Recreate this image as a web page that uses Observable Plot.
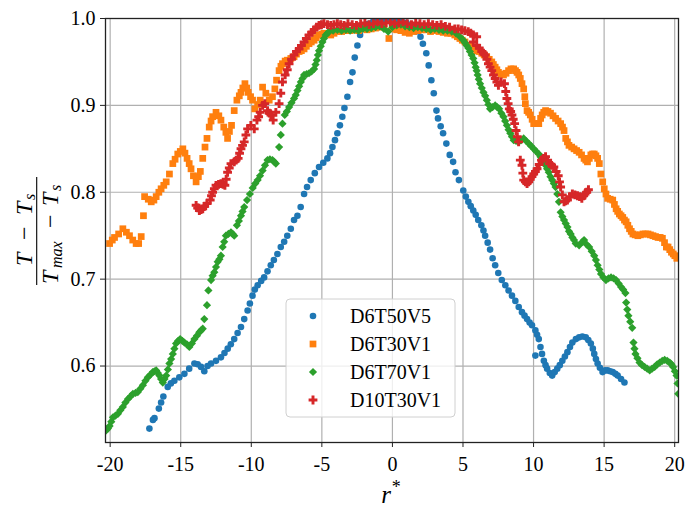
<!DOCTYPE html>
<html>
<head>
<meta charset="utf-8">
<script src="https://cdn.jsdelivr.net/npm/d3@7"></script>
<script src="https://cdn.jsdelivr.net/npm/@observablehq/plot@0.6"></script>
<style>
  html, body { margin: 0; padding: 0; background: #fff; }
  #chart svg { display: block; }
</style>
</head>
<body>
<div id="chart"></div>
<script>
// ---- data ----
const seriesNames = ["D6T50V5", "D6T30V1", "D6T70V1", "D10T30V1"];
const seriesColors = ["#1f77b4", "#ff7f0e", "#2ca02c", "#d62728"];
const seriesSymbols = ["circle", "square", "diamond2", "cross"];
const xTicks = [-20, -15, -10, -5, 0, 5, 10, 15, 20];
const yTicks = [0.6, 0.7, 0.8, 0.9, 1.0];

const d6t50v5 = [
[-17.22,.528],[-16.97,.538],[-16.86,.540],[-16.55,.551],[-16.39,.558],[-16.23,.565],[-15.92,.576],[-15.70,.580],
[-15.45,.583],[-15.10,.587],[-14.74,.591],[-14.40,.597],[-14.03,.603],[-13.80,.602],[-13.56,.599],[-13.33,.594],
[-13.10,.600],[-12.85,.603],[-12.50,.606],[-12.15,.610],[-11.90,.615],[-11.67,.620],[-11.45,.625],[-11.21,.631],
[-10.97,.638],[-10.73,.645],[-10.50,.654],[-10.26,.664],[-10.10,.672],[-9.91,.681],[-9.75,.688],[-9.55,.693],
[-9.30,.698],[-9.09,.702],[-8.85,.709],[-8.62,.716],[-8.40,.722],[-8.15,.729],[-7.91,.737],[-7.67,.743],
[-7.45,.750],[-7.20,.758],[-6.97,.768],[-6.73,.773],[-6.50,.783],[-6.26,.798],[-6.05,.806],[-5.79,.814],
[-5.50,.822],[-5.20,.829],[-4.90,.834],[-4.61,.839],[-4.42,.845],[-4.25,.852],[-4.07,.860],[-3.90,.868],
[-3.72,.877],[-3.55,.887],[-3.40,.897],[-3.19,.910],[-3.00,.927],[-2.83,.938],[-2.67,.955],[-2.48,.969],
[-2.29,.981],[-2.00,.990],[-1.70,.994],[-1.40,.996],[-1.10,.997],[-0.80,.998],[-0.50,.998],[-0.20,.997],
[0.10,.998],[0.40,.997],[0.70,.996],[1.00,.995],[1.35,.991],[1.69,.985],[1.99,.979],[2.16,.971],
[2.40,.960],[2.57,.946],[2.76,.929],[2.93,.914],[3.12,.894],[3.23,.885],[3.42,.876],[3.59,.868],
[3.82,.856],[4.06,.843],[4.30,.835],[4.47,.823],[4.71,.814],[5.02,.802],[5.20,.795],[5.38,.789],
[5.55,.784],[5.73,.779],[5.90,.774],[6.08,.768],[6.30,.762],[6.45,.756],[6.57,.750],[6.75,.742],
[6.92,.734],[7.10,.724],[7.28,.716],[7.50,.707],[7.75,.699],[8.00,.693],[8.23,.687],[8.47,.681],
[8.71,.675],[8.95,.668],[9.18,.662],[9.36,.658],[9.54,.654],[9.72,.650],[9.89,.647],[10.13,.641],
[10.25,.636],[10.37,.631],[10.49,.622],[10.13,.612],[10.60,.614],[10.73,.606],[10.85,.601],[10.96,.597],
[11.15,.592],[11.32,.589],[11.50,.593],[11.68,.597],[11.86,.601],[12.04,.606],[12.22,.611],[12.40,.616],
[12.58,.622],[12.75,.627],[13.00,.631],[13.23,.633],[13.46,.634],[13.70,.633],[13.88,.630],[14.06,.626],
[14.20,.620],[14.30,.614],[14.42,.608],[14.54,.603],[14.70,.598],[14.89,.593],[15.07,.595],[15.25,.595],
[15.43,.594],[15.61,.593],[15.80,.591],[15.96,.589],[16.20,.585],[16.44,.581]
];

const d6t30v1 = [
[-20.04,.741],[-19.85,.745],[-19.69,.748],[-19.40,.752],[-19.10,.758],[-18.85,.754],[-18.63,.750],[-18.40,.745],
[-18.16,.741],[-17.98,.741],[-17.80,.749],[-17.64,.773],[-17.56,.795],[-17.30,.792],[-17.09,.789],[-16.90,.791],
[-16.74,.795],[-16.55,.800],[-16.39,.804],[-16.20,.808],[-16.03,.812],[-15.80,.821],[-15.56,.833],[-15.40,.838],
[-15.21,.844],[-15.03,.847],[-14.85,.850],[-14.70,.845],[-14.55,.839],[-14.40,.833],[-14.27,.827],[-14.10,.819],
[-13.91,.812],[-13.75,.818],[-13.61,.824],[-13.44,.839],[-13.28,.852],[-13.14,.862],[-12.98,.875],[-12.85,.882],
[-12.74,.887],[-12.50,.892],[-12.30,.888],[-12.15,.883],[-11.95,.875],[-11.80,.869],[-11.68,.862],[-11.55,.870],
[-11.40,.877],[-11.21,.894],[-11.02,.906],[-10.85,.911],[-10.73,.915],[-10.60,.920],[-10.45,.925],[-10.32,.920],
[-10.22,.915],[-10.05,.910],[-9.91,.906],[-9.75,.896],[-9.55,.901],[-9.37,.906],[-9.20,.921],[-8.97,.914],
[-8.73,.906],[-8.50,.910],[-8.33,.919],[-8.21,.929],[-8.03,.940],[-7.90,.945],[-7.79,.948],[-7.60,.951],
[-7.44,.952],[-7.20,.954],[-6.97,.956],[-6.80,.959],[-6.61,.962],[-6.45,.963],[-6.26,.965],[-6.10,.968],
[-5.91,.971],[-5.75,.973],[-5.55,.975],[-5.40,.978],[-5.20,.981],[-5.00,.982],[-4.85,.983],[-4.60,.982],
[-4.37,.981],[-4.14,.983],[-3.90,.985],[-3.60,.985],[-3.30,.986],[-3.00,.986],[-2.70,.987],[-2.40,.986],
[-2.10,.988],[-1.80,.987],[-1.50,.988],[-1.20,.989],[-0.90,.990],[-0.60,.991],[-0.25,.977],[0.00,.988],
[0.30,.987],[0.60,.986],[0.90,.984],[1.20,.983],[1.50,.985],[1.80,.986],[2.10,.987],[2.40,.987],
[2.70,.985],[3.00,.986],[3.30,.985],[3.60,.984],[3.90,.983],[4.15,.983],[4.42,.981],[4.60,.979],
[4.78,.977],[4.95,.975],[5.14,.973],[5.40,.969],[5.61,.967],[5.80,.965],[5.97,.963],[6.15,.962],
[6.33,.960],[6.50,.958],[6.68,.956],[6.86,.953],[7.04,.950],[7.15,.947],[7.28,.944],[7.40,.941],
[7.51,.938],[7.70,.936],[7.87,.935],[8.05,.937],[8.23,.940],[8.40,.942],[8.59,.942],[8.72,.940],
[8.83,.938],[8.95,.935],[9.06,.931],[9.18,.925],[9.30,.919],[9.38,.910],[9.42,.902],[9.54,.894],
[9.65,.892],[9.77,.889],[9.90,.884],[10.01,.879],[10.20,.879],[10.37,.879],[10.50,.885],[10.61,.889],
[10.72,.892],[10.85,.894],[11.02,.893],[11.20,.891],[11.38,.888],[11.56,.885],[11.74,.882],[11.92,.879],
[12.05,.875],[12.16,.871],[12.28,.862],[12.40,.858],[12.51,.854],[12.70,.852],[12.87,.850],[13.05,.848],
[13.23,.846],[13.40,.843],[13.58,.839],[13.70,.837],[13.82,.835],[13.95,.839],[14.06,.843],[14.18,.844],
[14.30,.844],[14.42,.842],[14.54,.839],[14.66,.833],[14.77,.821],[14.90,.812],[15.01,.804],[15.13,.798],
[15.25,.793],[15.43,.792],[15.61,.791],[15.73,.786],[15.85,.781],[15.96,.778],[16.08,.775],[16.20,.773],
[16.32,.771],[16.44,.768],[16.56,.766],[16.68,.762],[16.80,.758],[16.92,.755],[17.04,.752],[17.20,.751],
[17.39,.750],[17.57,.751],[17.75,.752],[17.93,.752],[18.11,.752],[18.28,.751],[18.46,.750],[18.64,.749],
[18.82,.748],[18.97,.748],[19.13,.747],[19.28,.742],[19.41,.737],[19.53,.737],[19.65,.734],[19.77,.731],
[19.90,.729],[20.01,.727],[20.15,.724]
];

const d6t70v1 = [
[-20.28,.526],[-20.16,.528],[-20.04,.531],[-19.92,.536],[-19.80,.541],[-19.62,.543],[-19.45,.545],[-19.28,.549],
[-19.10,.553],[-18.92,.558],[-18.74,.562],[-18.56,.565],[-18.39,.568],[-18.20,.569],[-18.04,.570],[-17.86,.574],
[-17.68,.578],[-17.50,.583],[-17.33,.587],[-17.15,.590],[-16.98,.593],[-16.86,.594],[-16.74,.595],[-16.62,.592],
[-16.51,.589],[-16.39,.585],[-16.27,.581],[-16.15,.585],[-16.03,.589],[-15.91,.596],[-15.80,.603],[-15.68,.608],
[-15.56,.614],[-15.45,.620],[-15.33,.626],[-15.18,.629],[-15.04,.631],[-14.89,.629],[-14.74,.627],[-14.56,.625],
[-14.39,.622],[-14.21,.626],[-14.03,.631],[-13.85,.635],[-13.68,.639],[-13.56,.641],[-13.44,.643],[-13.33,.654],
[-13.14,.670],[-13.04,.687],[-12.85,.699],[-12.74,.704],[-12.62,.708],[-12.50,.714],[-12.38,.720],[-12.26,.723],
[-12.15,.727],[-12.03,.737],[-11.92,.743],[-11.80,.750],[-11.62,.752],[-11.44,.754],[-11.32,.752],[-11.21,.750],
[-11.02,.762],[-10.88,.767],[-10.73,.773],[-10.62,.778],[-10.50,.783],[-10.30,.791],[-10.10,.798],[-9.90,.805],
[-9.72,.810],[-9.55,.814],[-9.38,.819],[-9.20,.825],[-9.03,.831],[-8.85,.837],[-8.68,.838],[-8.50,.837],
[-8.38,.835],[-8.26,.833],[-8.03,.852],[-7.91,.866],[-7.79,.879],[-7.63,.889],[-7.48,.893],[-7.32,.898],
[-7.15,.903],[-6.97,.908],[-6.85,.912],[-6.73,.917],[-6.61,.922],[-6.49,.927],[-6.37,.931],[-6.26,.935],
[-6.08,.936],[-5.91,.937],[-5.73,.939],[-5.55,.942],[-5.45,.947],[-5.36,.952],[-5.28,.958],[-5.20,.963],
[-5.08,.968],[-4.96,.973],[-4.85,.977],[-4.73,.981],[-4.60,.983],[-4.49,.985],[-4.20,.986],[-3.90,.987],
[-3.60,.986],[-3.30,.987],[-3.00,.986],[-2.70,.987],[-2.40,.986],[-2.10,.988],[-1.80,.988],[-1.50,.989],
[-1.20,.990],[-0.90,.991],[-0.60,.988],[-0.30,.985],[0.00,.990],[0.30,.992],[0.60,.993],[0.90,.991],
[1.20,.990],[1.50,.989],[1.80,.990],[2.10,.989],[2.40,.988],[2.70,.987],[3.00,.988],[3.30,.987],
[3.60,.986],[3.90,.986],[4.20,.985],[4.50,.983],[4.78,.979],[5.02,.975],[5.14,.972],[5.26,.969],
[5.38,.966],[5.49,.962],[5.61,.958],[5.73,.954],[5.82,.949],[5.90,.944],[5.97,.940],[6.04,.935],
[6.12,.930],[6.21,.925],[6.33,.920],[6.45,.915],[6.57,.911],[6.69,.906],[6.80,.901],[6.92,.896],
[7.10,.898],[7.28,.900],[7.42,.898],[7.56,.896],[7.72,.891],[7.87,.887],[7.99,.882],[8.11,.877],
[8.23,.872],[8.35,.868],[8.47,.864],[8.59,.860],[8.76,.859],[8.94,.858],[9.12,.860],[9.30,.862],
[9.48,.859],[9.66,.856],[9.84,.853],[10.01,.850],[10.19,.847],[10.37,.844],[10.49,.841],[10.61,.839],
[10.73,.835],[10.85,.831],[10.96,.827],[11.08,.823],[11.20,.818],[11.32,.814],[11.44,.810],[11.56,.806],
[11.68,.798],[11.80,.789],[11.92,.777],[12.04,.772],[12.16,.768],[12.28,.764],[12.40,.760],[12.51,.755],
[12.63,.752],[12.75,.748],[12.87,.745],[12.99,.741],[13.23,.739],[13.46,.743],[13.58,.745],[13.76,.740],
[13.94,.737],[14.12,.732],[14.30,.727],[14.42,.722],[14.54,.716],[14.66,.711],[14.78,.706],[14.95,.702],
[15.13,.699],[15.31,.701],[15.49,.702],[15.67,.701],[15.85,.699],[16.03,.695],[16.20,.691],[16.35,.688],
[16.51,.684],[16.56,.673],[16.64,.665],[16.72,.658],[16.85,.651],[16.99,.644],[17.08,.627],[17.15,.620],
[17.22,.614],[17.36,.609],[17.51,.604],[17.69,.601],[17.87,.599],[18.05,.597],[18.23,.595],[18.40,.597],
[18.58,.599],[18.76,.602],[18.94,.604],[19.12,.606],[19.29,.607],[19.47,.606],[19.65,.604],[19.77,.602],
[19.89,.599],[20.01,.594],[20.13,.589],[20.20,.580],[20.25,.568]
];

const d10t30v1 = [
[-13.91,.785],[-13.80,.782],[-13.68,.779],[-13.56,.780],[-13.44,.781],[-13.30,.784],[-13.14,.787],[-12.91,.791],
[-12.82,.796],[-12.74,.800],[-12.62,.804],[-12.50,.808],[-12.32,.809],[-12.15,.810],[-12.00,.809],[-11.87,.808],
[-11.78,.815],[-11.68,.823],[-11.56,.828],[-11.44,.833],[-11.21,.835],[-11.07,.837],[-10.93,.839],[-10.83,.845],
[-10.73,.850],[-10.62,.854],[-10.50,.858],[-10.38,.866],[-10.26,.873],[-10.03,.877],[-9.79,.873],[-9.60,.883],
[-9.48,.887],[-9.37,.892],[-9.20,.900],[-9.04,.902],[-8.85,.894],[-8.73,.891],[-8.61,.889],[-8.45,.883],
[-8.26,.892],[-8.03,.902],[-7.91,.914],[-7.79,.927],[-7.60,.935],[-7.45,.941],[-7.32,.948],[-7.15,.953],
[-6.97,.958],[-6.80,.962],[-6.61,.965],[-6.45,.969],[-6.26,.973],[-6.10,.977],[-5.91,.981],[-5.72,.984],
[-5.55,.987],[-5.38,.990],[-5.20,.992],[-5.03,.993],[-4.85,.994],[-4.60,.993],[-4.37,.992],[-4.14,.993],
[-3.90,.994],[-3.67,.993],[-3.43,.992],[-3.15,.994],[-2.85,.993],[-2.55,.992],[-2.25,.994],[-1.95,.995],
[-1.65,.993],[-1.35,.994],[-1.05,.996],[-0.75,.994],[-0.45,.995],[-0.15,.996],[0.15,.994],[0.45,.995],
[0.75,.996],[1.05,.994],[1.35,.993],[1.65,.995],[1.95,.994],[2.25,.993],[2.55,.994],[2.85,.993],
[3.15,.992],[3.45,.993],[3.75,.991],[4.05,.990],[4.42,.988],[4.66,.988],[4.90,.987],[5.13,.986],
[5.37,.985],[5.55,.983],[5.73,.981],[5.97,.979],[5.73,.973],[5.97,.969],[6.15,.966],[6.33,.962],
[6.45,.960],[6.57,.958],[6.69,.953],[6.80,.948],[6.92,.944],[7.04,.940],[7.16,.935],[7.28,.931],
[7.40,.927],[7.51,.923],[7.70,.927],[7.94,.925],[8.03,.916],[8.11,.908],[8.20,.902],[8.28,.896],
[8.38,.893],[8.47,.889],[8.56,.884],[8.66,.879],[8.76,.871],[8.85,.864],[8.94,.858],[9.06,.837],
[9.18,.831],[9.24,.822],[9.30,.814],[9.42,.812],[9.54,.810],[9.66,.812],[9.77,.815],[9.89,.818],
[10.01,.821],[10.13,.824],[10.25,.827],[10.40,.832],[10.56,.837],[10.70,.839],[10.85,.841],[11.00,.837],
[11.13,.833],[11.28,.831],[11.44,.829],[11.60,.824],[11.75,.819],[11.84,.812],[11.92,.806],[12.04,.797],
[12.16,.789],[12.28,.790],[12.40,.791],[12.58,.795],[12.75,.798],[12.93,.797],[13.11,.796],[13.26,.795],
[13.42,.793],[13.54,.796],[13.65,.798],[13.77,.800],[13.89,.803]
];

const allSeries = [d6t50v5, d6t30v1, d6t70v1, d10t30v1];
const markerR = [3.3, 3.8, 3.7, 3.7];

// ---- chart ----
const FONT = "Liberation Serif";
const dotMarks = allSeries.map((s, i) => Plot.dot(s, {
  x: d => d[0], y: d => d[1],
  fill: seriesColors[i], symbol: seriesSymbols[i], r: markerR[i], clip: true
}));

const chart = Plot.plot({
  width: 686, height: 510,
  marginLeft: 105, marginRight: 8, marginTop: 18, marginBottom: 68,
  x: {domain: [-20.33, 20.27]},
  y: {domain: [0.512, 1.0]},
  style: {background: "#fff", color: "#000", fontFamily: FONT},
  marks: [
    Plot.gridX(xTicks, {stroke: "#b0b0b0", strokeOpacity: 1, strokeWidth: 1.2}),
    Plot.gridY(yTicks, {stroke: "#b0b0b0", strokeOpacity: 1, strokeWidth: 1.2}),
    ...dotMarks,
    Plot.frame({stroke: "#222", strokeWidth: 1.3}),
    Plot.axisX(xTicks, {tickSize: 5, tickPadding: 9, tickFormat: d => String(d), label: null, fontSize: 20, stroke: "#222", fontFamily: FONT}),
    Plot.axisY(yTicks, {tickSize: 5, tickPadding: 5, tickFormat: d => d.toFixed(1), label: null, fontSize: 20, stroke: "#222", fontFamily: FONT})
  ]
});
document.getElementById("chart").appendChild(chart);

// ---- annotations: legend, axis labels ----
const svg = d3.select(chart);

// y label as a fraction, rotated
const yl = svg.append("g").attr("transform", "translate(36.7,231) rotate(-90)")
  .attr("fill", "#000").attr("font-family", FONT);
yl.append("line").attr("x1", -54).attr("x2", 54).attr("y1", 0).attr("y2", 0)
  .attr("stroke", "#000").attr("stroke-width", 1.1);
function piece(g, txt, x, y, size, italic) {
  g.append("text").attr("x", x).attr("y", y).attr("font-size", size).attr("text-anchor", "start")
    .attr("font-family", FONT).attr("font-style", italic ? "italic" : "normal").text(txt);
}
// numerator  T − T_s
piece(yl, "T", -35, -5, 24, true);
piece(yl, "\u2212", -9, -5, 24, false);
piece(yl, "T", 16, -5, 24, true);
piece(yl, "s", 31, -2, 16, true);
// denominator  T_max − T_s
piece(yl, "T", -53, 21, 24, true);
piece(yl, "max", -37, 25, 16, true);
piece(yl, "\u2212", 3, 21, 24, false);
piece(yl, "T", 25, 21, 24, true);
piece(yl, "s", 40, 24, 16, true);

// x label r*
const xl = svg.append("text").attr("x", 391).attr("y", 503).attr("text-anchor", "middle")
  .attr("fill", "#000").attr("font-family", FONT);
xl.append("tspan").attr("font-style", "italic").attr("font-size", 25).text("r");
xl.append("tspan").attr("font-size", 18).attr("dy", -10).attr("dx", 1).text("*");

// legend
const lg = svg.append("g").attr("font-family", FONT);
lg.append("rect").attr("x", 286).attr("y", 299).attr("width", 169).attr("height", 118)
  .attr("rx", 4).attr("fill", "#fff").attr("fill-opacity", 0.8)
  .attr("stroke", "#d0d0d0").attr("stroke-width", 1);
const symMap = {circle: d3.symbolCircle, square: d3.symbolSquare, diamond2: d3.symbolDiamond2, cross: d3.symbolCross};
seriesNames.forEach((name, i) => {
  const cy = 316 + i * 28;
  lg.append("path")
    .attr("d", d3.symbol(symMap[seriesSymbols[i]], Math.PI * markerR[i] * markerR[i])())
    .attr("transform", `translate(313,${cy})`).attr("fill", seriesColors[i]);
  lg.append("text").attr("x", 350).attr("y", cy + 7).attr("font-size", 20).attr("text-anchor", "start")
    .attr("font-family", FONT).attr("fill", "#000").text(name);
});

// once the serif face is ready, re-apply it so the text is re-laid out with it
function refreshFont() {
  d3.select(chart).selectAll("text").attr("font-family", FONT);
  chart.style.fontFamily = FONT;
  void chart.getBoundingClientRect();
}
if (document.fonts && document.fonts.load) {
  Promise.all([
    document.fonts.load("20px 'Liberation Serif'"),
    document.fonts.load("italic 24px 'Liberation Serif'")
  ]).then(refreshFont, refreshFont);
}
</script>
</body>
</html>
